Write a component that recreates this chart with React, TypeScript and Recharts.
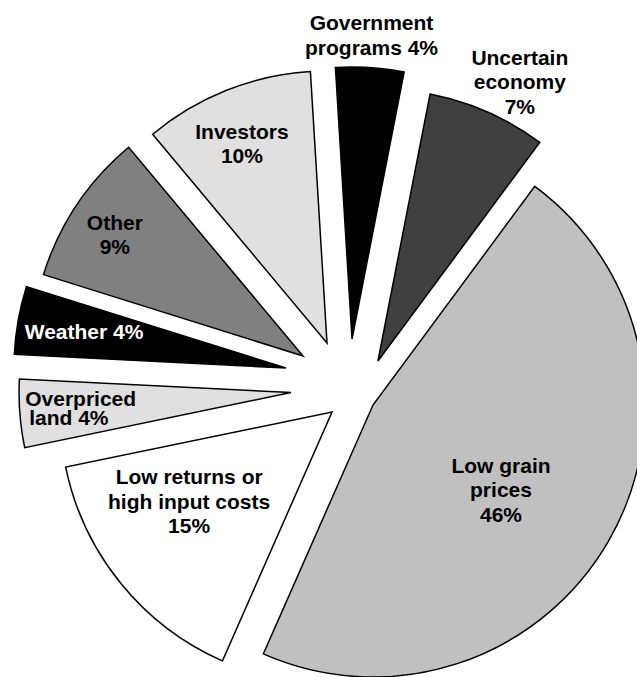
import { PieChart, Pie, Sector } from 'recharts'

const categories = [
  'Government\nprograms',
  'Uncertain\neconomy',
  'Low grain\nprices',
  'Low returns or\nhigh input costs',
  'Overpriced\nland',
  'Weather',
  'Other',
  'Investors',
]
const shares = [4, 7, 46, 15, 4, 4, 9, 10]

const data = categories.map((name, i) => ({ name, value: shares[i] }))

const COLORS = ['#000000', '#404040', '#c0c0c0', '#ffffff', '#e0e0e0', '#000000', '#808080', '#e0e0e0']
// explosion of each slice: distance pulled out, and a small turn off its mid angle
const EXPLODE = [
  { d: 51, turn: 6 },
  { d: 37.6, turn: -15.8 },
  { d: 24.2, turn: -8.2 },
  { d: 31.1, turn: 6.1 },
  { d: 63, turn: -2.1 },
  { d: 71.5, turn: -7.8 },
  { d: 61.3, turn: 0.1 },
  { d: 54.2, turn: 8.2 },
]
// label spot measured from the slice tip: distance + small turn off the mid angle
const LABELS: any[] = [
  { r: 304.6, da: 0.1, inline: true },
  { r: 313.3, da: -3.15 },
  { r: 153.4, da: -3.3 },
  { r: 168.6, da: -6.9 },
  { r: 266.3, da: -1.1, inline: true, anchor: 'start', lh: 19, indent: 4 },
  { r: 205.2, da: -0.1, inline: true, color: '#ffffff' },
  { r: 224, da: 0.9 },
  { r: 217, da: 1.4 },
]

const RAD = Math.PI / 180
const FONT = '"Liberation Sans", Arial, Helvetica, sans-serif'

function tip(p: any) {
  const e = EXPLODE[p.index]
  const a = (p.midAngle + e.turn) * RAD
  return {
    x: p.cx + e.d * Math.cos(a),
    y: p.cy - e.d * Math.sin(a),
  }
}

function SliceShape(p: any) {
  const t = tip(p)
  return (
    <Sector
      cx={t.x}
      cy={t.y}
      innerRadius={0}
      outerRadius={p.outerRadius}
      startAngle={p.startAngle}
      endAngle={p.endAngle}
      fill={COLORS[p.index]}
      stroke="#000"
      strokeWidth={1.5}
    />
  )
}

function SliceLabel(p: any) {
  const i = p.index
  const s = LABELS[i]
  const t = tip(p)
  const a = (p.midAngle + s.da) * RAD
  const x = t.x + s.r * Math.cos(a)
  const y = t.y - s.r * Math.sin(a)
  const lh = s.lh ?? 24.5
  const lines = categories[i].split('\n')
  const pct = `${shares[i]}%`
  if (s.inline) lines[lines.length - 1] += ' ' + pct
  else lines.push(pct)
  const y0 = y - ((lines.length - 1) * lh) / 2 + 7.5
  return (
    <text
      x={x}
      y={y0}
      textAnchor={s.anchor ?? 'middle'}
      fill={s.color ?? '#000'}
      fontFamily={FONT}
      fontWeight="bold"
      fontSize={21}
    >
      {lines.map((l, k) => (
        <tspan key={k} x={x + (k > 0 ? s.indent ?? 0 : 0)} y={y0 + k * lh}>
          {l}
        </tspan>
      ))}
    </text>
  )
}

export default function App() {
  return (
    <div style={{ position: 'absolute', left: 0, top: 0, width: 637, height: 677, overflow: 'hidden', background: '#fff' }}>
      <PieChart width={637} height={677} margin={{ top: 0, right: 0, bottom: 0, left: 0 }}>
        <Pie
          data={data}
          dataKey="value"
          cx={354}
          cy={390}
          outerRadius={272}
          startAngle={93.5}
          endAngle={-266.5}
          fill="none"
          stroke="none"
          label={SliceShape}
          labelLine={false}
          isAnimationActive={false}
        />
        <Pie
          data={data}
          dataKey="value"
          cx={354}
          cy={390}
          outerRadius={272}
          startAngle={93.5}
          endAngle={-266.5}
          fill="none"
          stroke="none"
          label={SliceLabel}
          labelLine={false}
          isAnimationActive={false}
        />
      </PieChart>
    </div>
  )
}
